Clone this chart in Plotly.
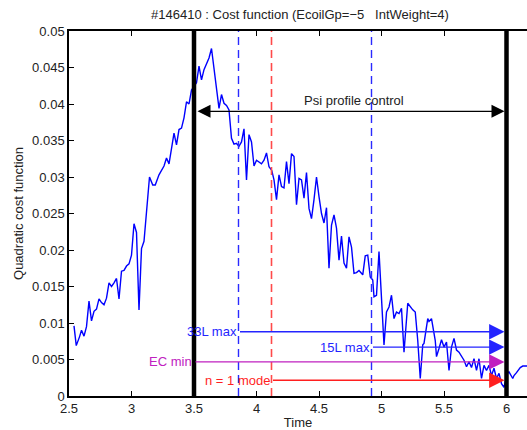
import plotly.graph_objects as go

# ---- data ----
time = [2.54, 2.558, 2.584, 2.60, 2.62, 2.64, 2.66, 2.68, 2.70, 2.72, 2.74, 2.76, 2.78, 2.80,
        2.82, 2.84, 2.86, 2.88, 2.90, 2.92, 2.94, 2.96, 2.98, 3.00, 3.02, 3.04, 3.06, 3.08,
        3.10, 3.12, 3.144, 3.17, 3.19, 3.22, 3.24, 3.26, 3.28, 3.30, 3.32, 3.34, 3.36, 3.38,
        3.40, 3.42, 3.44, 3.46, 3.48, 3.50, 3.52, 3.54, 3.56, 3.58, 3.61, 3.62, 3.64, 3.66,
        3.68, 3.70, 3.72, 3.74, 3.76, 3.78, 3.80, 3.82, 3.84, 3.86, 3.88, 3.90, 3.92, 3.94,
        3.96, 3.98, 4.00, 4.02, 4.04, 4.06, 4.08, 4.10, 4.122, 4.14, 4.16, 4.18, 4.20, 4.22,
        4.24, 4.26, 4.28, 4.30, 4.32, 4.34, 4.36, 4.38, 4.40, 4.42, 4.44, 4.46, 4.48, 4.50,
        4.52, 4.54, 4.56, 4.58, 4.60, 4.62, 4.64, 4.66, 4.68, 4.70, 4.72, 4.74, 4.76, 4.78,
        4.80, 4.82, 4.85, 4.87, 4.89, 4.91, 4.93, 4.94, 4.96, 4.98, 5.00, 5.02, 5.04, 5.06,
        5.08, 5.10, 5.12, 5.14, 5.16, 5.18, 5.21, 5.23, 5.25, 5.27, 5.29, 5.31, 5.33, 5.34,
        5.37, 5.38, 5.40, 5.43, 5.44, 5.46, 5.48, 5.50, 5.52, 5.54, 5.56, 5.58, 5.60, 5.62,
        5.64, 5.66, 5.68, 5.70, 5.72, 5.74, 5.76, 5.78, 5.80, 5.82, 5.84, 5.86, 5.88, 5.90,
        5.92, 5.94, 5.96, 5.98, 6.006, 6.02, 6.05, 6.06, 6.08, 6.11, 6.13, 6.17]
cost = [0.0096, 0.0069, 0.0081, 0.0090, 0.0082, 0.0095, 0.0130, 0.0103, 0.0116, 0.0119, 0.0133,
        0.0128, 0.0125, 0.0134, 0.0155, 0.0150, 0.0155, 0.0161, 0.0133, 0.0171, 0.0172, 0.0178,
        0.0181, 0.0193, 0.0236, 0.0224, 0.0118, 0.0202, 0.0212, 0.0250, 0.0300, 0.0289, 0.0289,
        0.0303, 0.0310, 0.0315, 0.0326, 0.0318, 0.0339, 0.0360, 0.0344, 0.0365, 0.0367, 0.0381,
        0.0403, 0.0400, 0.0419, 0.0424, 0.0429, 0.0452, 0.0433, 0.0447, 0.0460, 0.0463, 0.0476,
        0.0447, 0.0419, 0.0394, 0.0413, 0.0401, 0.0398, 0.0392, 0.0353, 0.0345, 0.0346, 0.0342,
        0.0348, 0.0366, 0.0296, 0.0358, 0.0348, 0.0315, 0.0323, 0.0321, 0.0318, 0.0323, 0.0333,
        0.0314, 0.0309, 0.0296, 0.0269, 0.0303, 0.0287, 0.0285, 0.0321, 0.0291, 0.0332, 0.0328,
        0.0262, 0.0298, 0.0296, 0.0271, 0.0306, 0.0257, 0.0243, 0.0269, 0.0300, 0.0273, 0.0250,
        0.0237, 0.0258, 0.0175, 0.0234, 0.0248, 0.0230, 0.0186, 0.0219, 0.0182, 0.0175, 0.0218,
        0.0204, 0.0168, 0.0169, 0.0172, 0.0166, 0.0192, 0.0193, 0.0163, 0.0159, 0.0136, 0.0138,
        0.0198, 0.0140, 0.0070, 0.0115, 0.0122, 0.0138, 0.0106, 0.0115, 0.0113, 0.0120, 0.0060,
        0.0127, 0.0122, 0.0118, 0.0115, 0.0076, 0.0024, 0.0070, 0.0072, 0.0106, 0.0102, 0.0106,
        0.0076, 0.0054, 0.0065, 0.0077, 0.0067, 0.0074, 0.0035, 0.0067, 0.0079, 0.0063, 0.0060,
        0.0054, 0.0049, 0.0040, 0.0047, 0.0039, 0.0051, 0.0035, 0.0051, 0.0024, 0.0042, 0.0035,
        0.0042, 0.0028, 0.0038, 0.0024, 0.0031, 0.0017, 0.0012, 0.0031, 0.0033, 0.0024, 0.0028,
        0.0032, 0.0039, 0.0041, 0.0041]

# control window (thick black lines)
control_window = [3.5, 6.0]
# event times (dashed lines)
blue_events = [3.856, 4.92]
red_events = [4.12]

# psi profile control arrow
psi_label = "Psi profile control"
psi_y = 0.0390

# limit arrows
limit_labels = ["33L max", "15L max", "EC min", "n = 1 mode"]
limit_y = [0.0088, 0.0067, 0.00467, 0.00215]
limit_start = [3.856, 4.92, 3.5, 4.12]
limit_end = [6.0, 6.0, 6.0, 6.0]
limit_colors = ["#2424ff", "#2424ff", "#c020c0", "#ff1f1f"]

xticks = [2.5, 3, 3.5, 4, 4.5, 5, 5.5, 6]
xtick_text = ["2.5", "3", "3.5", "4", "4.5", "5", "5.5", "6"]
yticks = [0, 0.005, 0.01, 0.015, 0.02, 0.025, 0.03, 0.035, 0.04, 0.045, 0.05]
ytick_text = ["0", "0.005", "0.01", "0.015", "0.02", "0.025", "0.03", "0.035", "0.04", "0.045", "0.05"]

FONT = "Liberation Sans, Arial, Helvetica, sans-serif"

fig = go.Figure()
fig.add_trace(go.Scatter(x=time, y=cost, mode="lines",
                         line=dict(color="#0000ff", width=1.4), showlegend=False,
                         hoverinfo="skip", cliponaxis=True))

shapes = []
for xv in blue_events:
    shapes.append(dict(type="line", xref="x", yref="y", x0=xv, x1=xv, y0=0, y1=0.05,
                       line=dict(color="#2a2aff", width=1.4, dash="8px,5px")))
for xv in red_events:
    shapes.append(dict(type="line", xref="x", yref="y", x0=xv, x1=xv, y0=0, y1=0.05,
                       line=dict(color="#ff4a4a", width=1.6, dash="8px,5px")))
for xv in control_window:
    shapes.append(dict(type="line", xref="x", yref="y", x0=xv, x1=xv, y0=0, y1=0.05,
                       line=dict(color="black", width=4.5)))

annotations = []
# psi double arrow
annotations.append(dict(x=control_window[1], y=psi_y, ax=control_window[0], ay=psi_y,
                        xref="x", yref="y", axref="x", ayref="y", text="",
                        showarrow=True, arrowhead=2, startarrowhead=2, arrowside="end+start",
                        arrowsize=2.0, startarrowsize=2.0, arrowwidth=1.3, arrowcolor="black",
                        standoff=2, startstandoff=2))
annotations.append(dict(x=(control_window[0] + control_window[1]) / 2 + 0.03, y=psi_y,
                        xref="x", yref="y", text=psi_label, showarrow=False,
                        yanchor="bottom", yshift=1, font=dict(size=13, color="#222", family=FONT)))

for lab, yv, xs, xe, col in zip(limit_labels, limit_y, limit_start, limit_end, limit_colors):
    annotations.append(dict(x=xe, y=yv, ax=xs, ay=yv, xref="x", yref="y", axref="x", ayref="y",
                            text="", showarrow=True, arrowhead=2, arrowsize=2.2, arrowwidth=1.4,
                            arrowcolor=col, standoff=2))
    annotations.append(dict(x=xs, y=yv, xref="x", yref="y", text=lab, showarrow=False,
                            xanchor="right", yanchor="middle", xshift=0,
                            font=dict(size=13, color=col, family=FONT)))

fig.update_layout(
    template="none",
    width=527, height=430,
    margin=dict(l=69, r=0, t=31, b=34, pad=0),
    paper_bgcolor="white", plot_bgcolor="white",
    font=dict(family=FONT, size=13, color="#222"),
    title=dict(text="#146410 : Cost function (EcoilGp=\u22125   IntWeight=4)",
               x=300 / 527, xanchor="center", y=1 - 14 / 430, yanchor="middle",
               font=dict(size=13, color="#222", family=FONT)),
    shapes=shapes,
    annotations=annotations,
    showlegend=False,
)
fig.update_xaxes(range=[2.5, 6.164], tickvals=xticks, ticktext=xtick_text,
                 showgrid=False, zeroline=False, showline=True, linecolor="black",
                 linewidth=1.5, mirror="ticks", ticks="inside", ticklen=5,
                 tickcolor="black", tickwidth=1,
                 title=dict(text="Time", standoff=4, font=dict(size=13, family=FONT)),
                 tickfont=dict(size=13, family=FONT))
fig.update_yaxes(range=[0, 0.05], tickvals=yticks, ticktext=ytick_text,
                 showgrid=False, zeroline=False, showline=True, linecolor="black",
                 linewidth=1.5, mirror=False, ticks="inside", ticklen=5, tickcolor="black",
                 tickwidth=1,
                 title=dict(text="Quadratic cost function", standoff=6,
                            font=dict(size=13, family=FONT)),
                 tickfont=dict(size=13, family=FONT))

fig.write_html("out.html", config={"displayModeBar": False})
